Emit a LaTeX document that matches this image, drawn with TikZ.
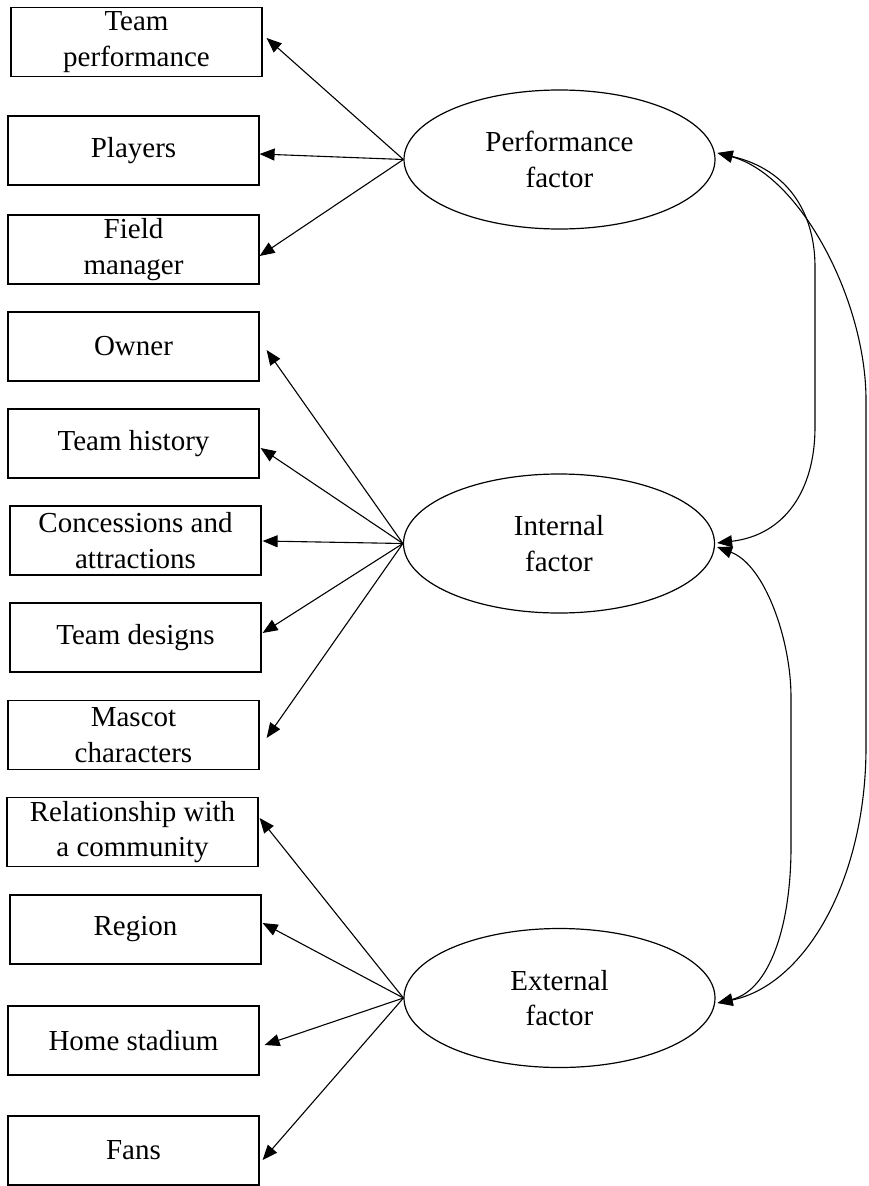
\documentclass[tikz,border=0pt]{standalone}
\usepackage{fontspec}
\setmainfont{Liberation Serif}
\usetikzlibrary{calc,shapes.geometric,arrows.meta}
\tikzset{
  itembox/.style={draw=black, line width=1.2pt, minimum width=251pt, minimum height=69pt, inner sep=0pt, align=center, font=\fontsize{29}{35.5}\selectfont},
  factor/.style={draw=black, line width=1.2pt, ellipse, minimum width=311pt, minimum height=139pt, inner sep=0pt, align=center, font=\fontsize{29}{35.5}\selectfont},
  link/.style={line width=1.1pt, -{Triangle[length=15pt,width=12pt]}},
  covar/.style={line width=1.1pt, {Triangle[length=15pt,width=12pt]}-{Triangle[length=15pt,width=12pt]}}
}
\begin{document}
\begin{tikzpicture}[x=1pt,y=-1pt]
\useasboundingbox (0,0) rectangle (868,1186);
% boxes
\node[itembox] (b1) at (136.5,42) {Team\\performance};
\node[itembox] (b2) at (133.5,150.5) {Players};
\node[itembox] (b3) at (133.5,249.5) {Field\\manager};
\node[itembox] (b4) at (133.5,346.5) {Owner};
\node[itembox] (b5) at (133.5,443.5) {Team history};
\node[itembox] (b6) at (135.5,540.5) {Concessions and\\attractions};
\node[itembox] (b7) at (135.5,637.5) {Team designs};
\node[itembox] (b8) at (133.5,735) {Mascot\\characters};
\node[itembox] (b9) at (132.5,832) {Relationship with\\a community};
\node[itembox] (b10) at (135.5,929.5) {Region};
\node[itembox] (b11) at (133.5,1040.5) {Home stadium};
\node[itembox] (b12) at (133.5,1150.5) {Fans};
% factors
\node[factor] (perf) at (559.5,159.5) {Performance\\factor};
\node[factor] (int) at (559,543.5) {Internal\\factor};
\node[factor] (ext) at (559.5,998) {External\\factor};
% loadings
\draw[link] (perf.west) -- ($(b1.east)+(4,-4)$);
\draw[link] (perf.west) -- ($(b2.east)+(0,3.5)$);
\draw[link] (perf.west) -- ($(b3.east)+(0,6.5)$);
\draw[link] (int.west) -- ($(b4.east)+(7,3.5)$);
\draw[link] (int.west) -- ($(b5.east)+(1,4.5)$);
\draw[link] (int.west) -- ($(b6.east)+(1,0.5)$);
\draw[link] (int.west) -- ($(b7.east)+(1,-4.5)$);
\draw[link] (int.west) -- ($(b8.east)+(7,3)$);
\draw[link] (ext.west) -- ($(b9.east)+(1,-14)$);
\draw[link] (ext.west) -- ($(b10.east)+(1,-6.5)$);
\draw[link] (ext.west) -- ($(b11.east)+(5,4.5)$);
\draw[link] (ext.west) -- ($(b12.east)+(3,9.5)$);
% covariances
\draw[covar] ($(perf.east)+(2,-6.5)$) .. controls (790,170) and (815,215) .. (815,267) -- (815,427) .. controls (815,490) and (785,535) .. ($(int.east)+(2,-0.5)$);
\draw[covar] ($(int.east)+(2,3.5)$) .. controls (765,565) and (791,640) .. (791,697) -- (791,847) .. controls (791,925) and (770,990) .. ($(ext.east)+(2,5)$);
\draw[covar] ($(perf.east)+(2,-6.5)$) .. controls (800,175) and (866,300) .. (866,400) -- (866,747) .. controls (866,880) and (805,985) .. ($(ext.east)+(2,5)$);
\end{tikzpicture}
\end{document}
